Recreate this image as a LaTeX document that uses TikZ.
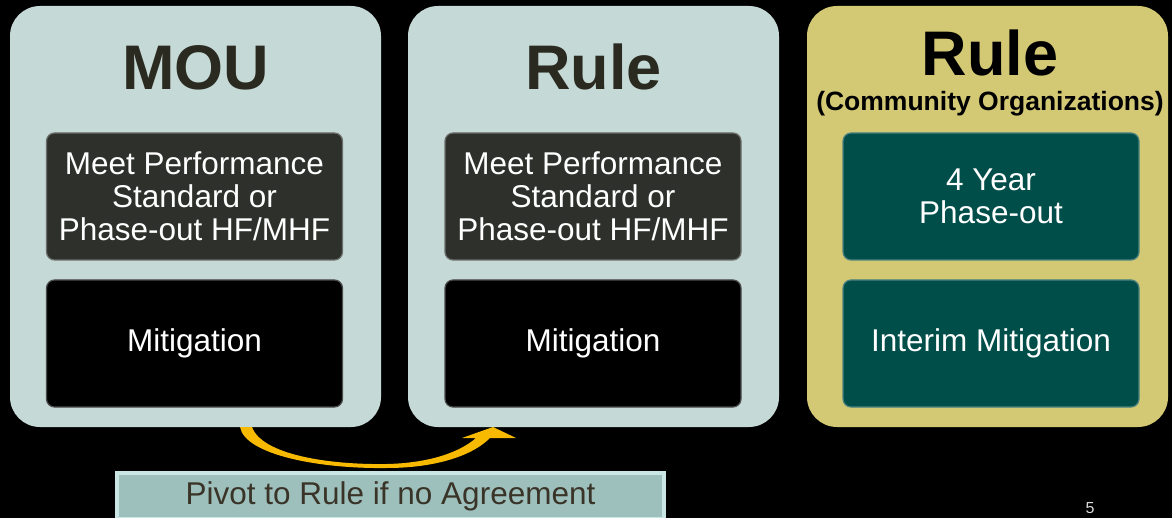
\documentclass[tikz,border=0pt]{standalone}
\usepackage{fontspec}
\setmainfont{Liberation Sans}
\usepackage[dvipsnames]{xcolor}

\definecolor{panelgrey}{HTML}{C5D9D6}
\definecolor{panelgold}{HTML}{D3C874}
\definecolor{boxdark}{HTML}{2D302B}
\definecolor{boxteal}{HTML}{004E4A}
\definecolor{titleink}{HTML}{2B2A20}
\definecolor{pivotorange}{HTML}{F7BA00}
\definecolor{bannertop}{HTML}{DDF6F4}
\definecolor{bannerbot}{HTML}{9DC0BD}
\definecolor{bannerink}{HTML}{3A3428}

\begin{document}
\begin{tikzpicture}[x=1pt,y=-1pt,
    panel/.style={rounded corners=30pt,minimum width=371pt,minimum height=421pt,inner sep=0pt,fill=panelgrey},
    inner box/.style={rounded corners=8pt,minimum width=296pt,minimum height=127pt,inner sep=0pt,align=center,
        text=white,font=\fontsize{31.5}{33}\selectfont,line width=1.2pt},
    title/.style={anchor=base,font=\fontsize{63}{70}\selectfont\bfseries,text=titleink}]
    \fill[black] (0,0) rectangle (1172,518);
    \useasboundingbox (0,0) rectangle (1172,518);

    % three columns
    \node[panel] (mou) at (195.5,216.5) {};
    \node[panel] (rule) at (593.5,216.5) {};
    \node[panel,fill=panelgold,minimum width=361pt] (rulecom) at (987.5,216.5) {};

    \node[title] (mou title) at (195.5,90) {MOU};
    \node[title] (rule title) at (593.5,90) {Rule};
    \node[title,text=black] (rulecom title) at (990,76) {Rule};
    \node[anchor=base,font=\fontsize{26.5}{30}\selectfont\bfseries] (rulecom sub) at (990,111) {(Community Organizations)};

    \node[inner box,fill=boxdark,draw=boxdark!70!white] (mou perf) at (194.5,196.5) {Meet Performance\\Standard or\\Phase-out HF/MHF};
    \node[inner box,fill=black,draw=black!70!white] (mou mit) at (194.5,343.5) {Mitigation};
    \node[inner box,fill=boxdark,draw=boxdark!70!white] (rule perf) at (593,196.5) {Meet Performance\\Standard or\\Phase-out HF/MHF};
    \node[inner box,fill=black,draw=black!70!white] (rule mit) at (593,343.5) {Mitigation};
    \node[inner box,fill=boxteal,draw=boxteal!70!white] (rulecom phase) at (991,196.5) {4 Year\\Phase-out};
    \node[inner box,fill=boxteal,draw=boxteal!70!white] (rulecom mit) at (991,343.5) {Interim Mitigation};

    % pivot arrow from MOU to Rule
    \coordinate (pivot start) at (240,427);
    \coordinate (pivot tip) at (493,427);
    \fill[pivotorange] (pivot start) -- (252,427)
        .. controls (262,455) and (330,465) .. (387,464)
        .. controls (430,463) and (460,452) .. (476,438)
        -- (462,438) -- (pivot tip) -- (516,438) -- (490,438)
        .. controls (470,458) and (430,468) .. (387,468)
        .. controls (320,469) and (245,455) .. (pivot start) -- cycle;

    \node[minimum width=547pt,minimum height=46pt,inner sep=0pt,fill=bannerbot,draw=bannertop!70!bannerbot,line width=4pt,
        text=bannerink,font=\fontsize{31.5}{33}\selectfont] (pivot) at (390.5,496) {Pivot to Rule if no Agreement};

    \node[text=black!15,font=\fontsize{16}{18}\selectfont] (page) at (1090,508) {5};
\end{tikzpicture}
\end{document}
